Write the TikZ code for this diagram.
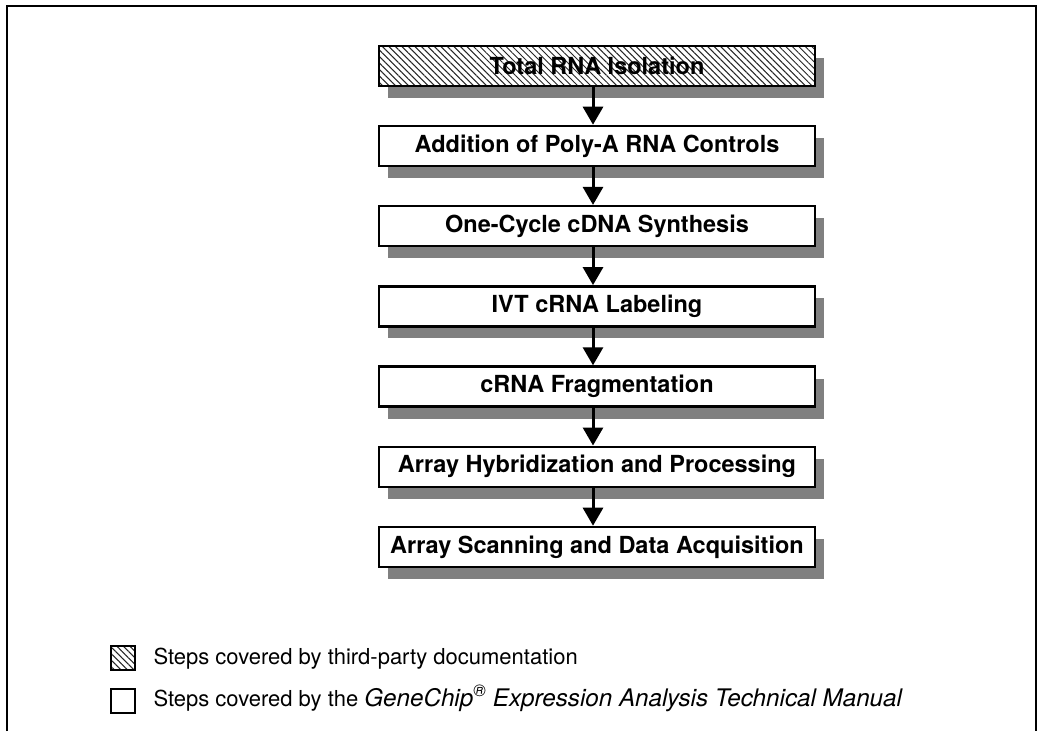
\documentclass[tikz,border=0pt]{standalone}
\usepackage{fontspec}
\setmainfont{TeX Gyre Heros}
\usetikzlibrary{arrows.meta,shadows,patterns.meta}

\tikzset{
	stepbox/.style={draw=black, line width=2.4pt, fill=white, minimum width=436pt, minimum height=40pt, inner sep=0pt,
		font=\fontsize{23.5}{26}\selectfont\bfseries,
		drop shadow={shadow xshift=8.5pt, shadow yshift=-12pt, fill=black!50, opacity=1}},
	hatched/.style={preaction={fill=white}, pattern={Lines[angle=-45,distance=4.6pt,line width=1pt]}, pattern color=black!85},
	flow/.style={line width=3pt, -{Triangle[width=20pt,length=18pt]}},
	keybox/.style={draw=black, line width=2pt, minimum size=24pt, inner sep=0pt},
	keytext/.style={anchor=base west, font=\fontsize{22}{26}\selectfont}
}

\begin{document}
\begin{tikzpicture}[x=1pt, y=1pt]
		\useasboundingbox (0,0) rectangle (1041,-731);
		\draw[line width=2pt] (7,-731) -- (7,-6) -- (1036,-6) -- (1036,-731);

		\node[stepbox, hatched] (isolation) at (597,-65.7) {Total RNA Isolation};
		\node[stepbox] (controls) at (597,-145.9) {Addition of Poly-A RNA Controls};
		\node[stepbox] (synthesis) at (597,-226.1) {One-Cycle cDNA Synthesis};
		\node[stepbox] (labeling) at (597,-306.3) {IVT cRNA Labeling};
		\node[stepbox] (fragment) at (597,-386.5) {cRNA Fragmentation};
		\node[stepbox] (hybrid) at (597,-466.7) {Array Hybridization and Processing};
		\node[stepbox] (scanning) at (597,-546.9) {Array Scanning and Data Acquisition};

		\foreach \a/\b in {isolation/controls, controls/synthesis, synthesis/labeling,
			labeling/fragment, fragment/hybrid, hybrid/scanning}
			\draw[flow] ([xshift=-4pt]\a.south) -- ([xshift=-4pt]\b.north);

		% key
		\node[keybox, hatched] (keyhatch) at (123,-658) {};
		\node[keybox] (keyplain) at (123,-700.5) {};
		\node[keytext] (hatchtext) at (150,-664) {Steps covered by third-party documentation};
		\node[keytext] (plaintext) at (150,-706) {Steps covered by the {\fontsize{24.2}{26}\selectfont\itshape GeneChip\textsuperscript{®} Expression Analysis Technical Manual}};
	\end{tikzpicture}
\end{document}
